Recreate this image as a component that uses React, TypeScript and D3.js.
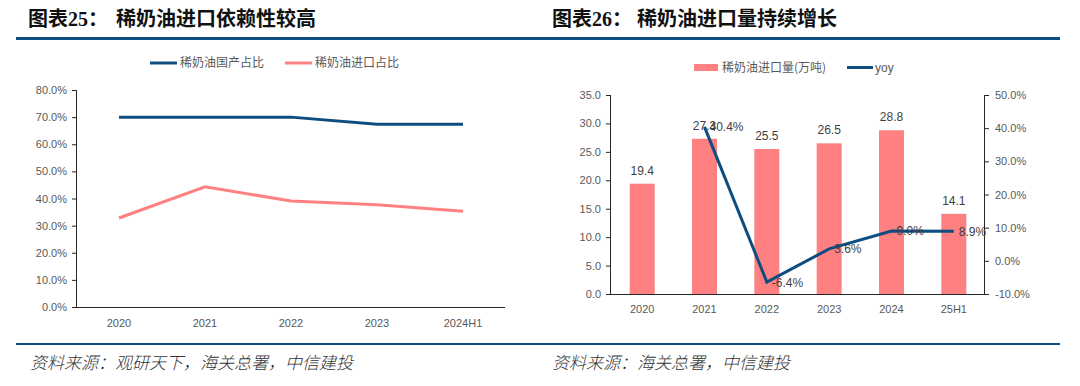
import React, { useEffect } from "react";
import * as d3 from "d3";

// 图表25
const years25 = ["2020", "2021", "2022", "2023", "2024H1"];
const domesticShare = [70.0, 70.0, 70.0, 67.4, 67.4];
const importShare = [32.8, 44.3, 39.1, 37.7, 35.3];
const yTicks25 = [0, 10, 20, 30, 40, 50, 60, 70, 80];

// 图表26
const years26 = ["2020", "2021", "2022", "2023", "2024", "25H1"];
const importVolume = [19.4, 27.3, 25.5, 26.5, 28.8, 14.1];
const yoy = [null, 40.4, -6.4, 3.6, 9.0, 8.9];
const yTicksLeft26 = [0, 5, 10, 15, 20, 25, 30, 35];
const yTicksRight26 = [-10, 0, 10, 20, 30, 40, 50];

const NAVY = "#0e4d7f";
const PINK = "#ff8080";
const AXIS = "#262626";
const TICK = "#595959";
const LABEL = "#404040";
const NUM_FONT = "'Liberation Sans', Arial, sans-serif";
const CJK_FONT = "'Noto Sans CJK SC', sans-serif";

const LeftChart = () => {
  const x = d3.scalePoint().domain(years25).range([119, 463]);
  const y = d3.scaleLinear().domain([0, 80]).range([307, 90]);
  const line = d3
    .line<number>()
    .x((_, i) => x(years25[i])!)
    .y((d) => y(d));

  return (
    <g>
      {/* legend */}
      <line x1={150} x2={177} y1={63} y2={63} stroke={NAVY} strokeWidth={3} />
      <text x={180} y={67} fontSize={12} fill={TICK} fontFamily={CJK_FONT}>稀奶油国产占比</text>
      <line x1={285} x2={312} y1={63} y2={63} stroke={PINK} strokeWidth={3} />
      <text x={315} y={67} fontSize={12} fill={TICK} fontFamily={CJK_FONT}>稀奶油进口占比</text>

      {/* axes */}
      <line x1={76.5} x2={76.5} y1={y(80)} y2={y(0)} stroke={AXIS} strokeWidth={1} />
      <line x1={76} x2={505} y1={y(0) + 0.5} y2={y(0) + 0.5} stroke={AXIS} strokeWidth={1} />
      {yTicks25.map((t) => (
        <g key={t}>
          <line x1={72} x2={76} y1={y(t) + 0.5} y2={y(t) + 0.5} stroke={AXIS} />
          <text x={67} y={y(t) + 4} textAnchor="end" fontSize={11} fill={TICK} fontFamily={NUM_FONT}>
            {d3.format(".1f")(t) + "%"}
          </text>
        </g>
      ))}
      {years25.map((c) => (
        <text key={c} x={x(c)} y={327} textAnchor="middle" fontSize={11} fill={TICK} fontFamily={NUM_FONT}>
          {c}
        </text>
      ))}

      <path d={line(domesticShare) ?? ""} fill="none" stroke={NAVY} strokeWidth={3} />
      <path d={line(importShare) ?? ""} fill="none" stroke={PINK} strokeWidth={3} />
    </g>
  );
};

const RightChart = () => {
  const x = d3.scaleBand().domain(years26).range([611, 985]);
  const yL = d3.scaleLinear().domain([0, 35]).range([294, 95]);
  const yR = d3.scaleLinear().domain([-10, 50]).range([294, 95]);
  const cx = (c: string) => x(c)! + x.bandwidth() / 2;
  const pts = years26
    .map((c, i) => ({ c, v: yoy[i] }))
    .filter((d) => d.v !== null) as { c: string; v: number }[];
  const line = d3
    .line<{ c: string; v: number }>()
    .x((d) => cx(d.c))
    .y((d) => yR(d.v));

  return (
    <g>
      {/* legend */}
      <rect x={694} y={64} width={24} height={7} fill={PINK} />
      <text x={722} y={72} fontSize={12} fill={TICK} fontFamily={CJK_FONT}>稀奶油进口量(万吨)</text>
      <line x1={847} x2={873} y1={67.5} y2={67.5} stroke={NAVY} strokeWidth={3} />
      <text x={875} y={72} fontSize={12} fill={TICK} fontFamily={NUM_FONT}>yoy</text>

      {/* bars */}
      {years26.map((c, i) => (
        <g key={c}>
          <rect
            x={cx(c) - 12.5}
            width={25}
            y={yL(importVolume[i])}
            height={yL(0) - yL(importVolume[i])}
            fill={PINK}
          />
          <text
            x={cx(c)}
            y={yL(importVolume[i]) - 9}
            textAnchor="middle"
            fontSize={12}
            fill={LABEL}
            fontFamily={NUM_FONT}
          >
            {importVolume[i].toFixed(1)}
          </text>
        </g>
      ))}

      {/* axes */}
      <line x1={610.5} x2={610.5} y1={yL(35)} y2={yL(0)} stroke={AXIS} />
      <line x1={984.5} x2={984.5} y1={yR(50)} y2={yR(-10)} stroke={AXIS} />
      <line x1={610} x2={985} y1={yL(0) + 0.5} y2={yL(0) + 0.5} stroke={AXIS} />
      {yTicksLeft26.map((t) => (
        <g key={t}>
          <line x1={606} x2={610} y1={yL(t) + 0.5} y2={yL(t) + 0.5} stroke={AXIS} />
          <text x={601} y={yL(t) + 4} textAnchor="end" fontSize={11} fill={TICK} fontFamily={NUM_FONT}>
            {t.toFixed(1)}
          </text>
        </g>
      ))}
      {yTicksRight26.map((t) => (
        <g key={t}>
          <line x1={985} x2={989} y1={yR(t) + 0.5} y2={yR(t) + 0.5} stroke={AXIS} />
          <text x={995} y={yR(t) + 4} textAnchor="start" fontSize={11} fill={TICK} fontFamily={NUM_FONT}>
            {t.toFixed(1) + "%"}
          </text>
        </g>
      ))}
      {years26.map((c) => (
        <text key={c} x={cx(c)} y={313} textAnchor="middle" fontSize={11} fill={TICK} fontFamily={NUM_FONT}>
          {c}
        </text>
      ))}

      {/* yoy line */}
      <path d={line(pts) ?? ""} fill="none" stroke={NAVY} strokeWidth={3} strokeLinejoin="miter" />
      {pts.map((d) => (
        <text
          key={d.c}
          x={cx(d.c) + 5}
          y={yR(d.v) + 4.5}
          fontSize={12}
          fill={LABEL}
          fontFamily={NUM_FONT}
        >
          {d.v.toFixed(1) + "%"}
        </text>
      ))}
    </g>
  );
};

export default function App() {
  useEffect(() => {
    document.body.style.margin = "0";
  }, []);

  return (
    <svg width={1080} height={386} style={{ display: "block", background: "#fff" }}>
      {/* titles */}
      <text x={28} y={26} fontSize={20} fontWeight="bold" fill="#111" fontFamily={CJK_FONT}>
        图表<tspan fontFamily="'Liberation Serif', serif">25</tspan>：
      </text>
      <text x={116} y={26} fontSize={20} fontWeight="bold" fill="#111" fontFamily={CJK_FONT}>
        稀奶油进口依赖性较高
      </text>
      <text x={552} y={26} fontSize={20} fontWeight="bold" fill="#111" fontFamily={CJK_FONT}>
        图表<tspan fontFamily="'Liberation Serif', serif">26</tspan>：
      </text>
      <text x={637} y={26} fontSize={20} fontWeight="bold" fill="#111" fontFamily={CJK_FONT}>
        稀奶油进口量持续增长
      </text>
      <rect x={16} y={37} width={1044} height={3} fill={NAVY} />

      <LeftChart />
      <RightChart />

      <rect x={16} y={343} width={1044} height={2} fill={NAVY} />
      <text x={30} y={369} fontSize={17} fontStyle="italic" fill="#333" fontFamily={CJK_FONT} fontWeight={300}>
        资料来源：观研天下，海关总署，中信建投
      </text>
      <text x={552} y={369} fontSize={17} fontStyle="italic" fill="#333" fontFamily={CJK_FONT} fontWeight={300}>
        资料来源：海关总署，中信建投
      </text>
    </svg>
  );
}
